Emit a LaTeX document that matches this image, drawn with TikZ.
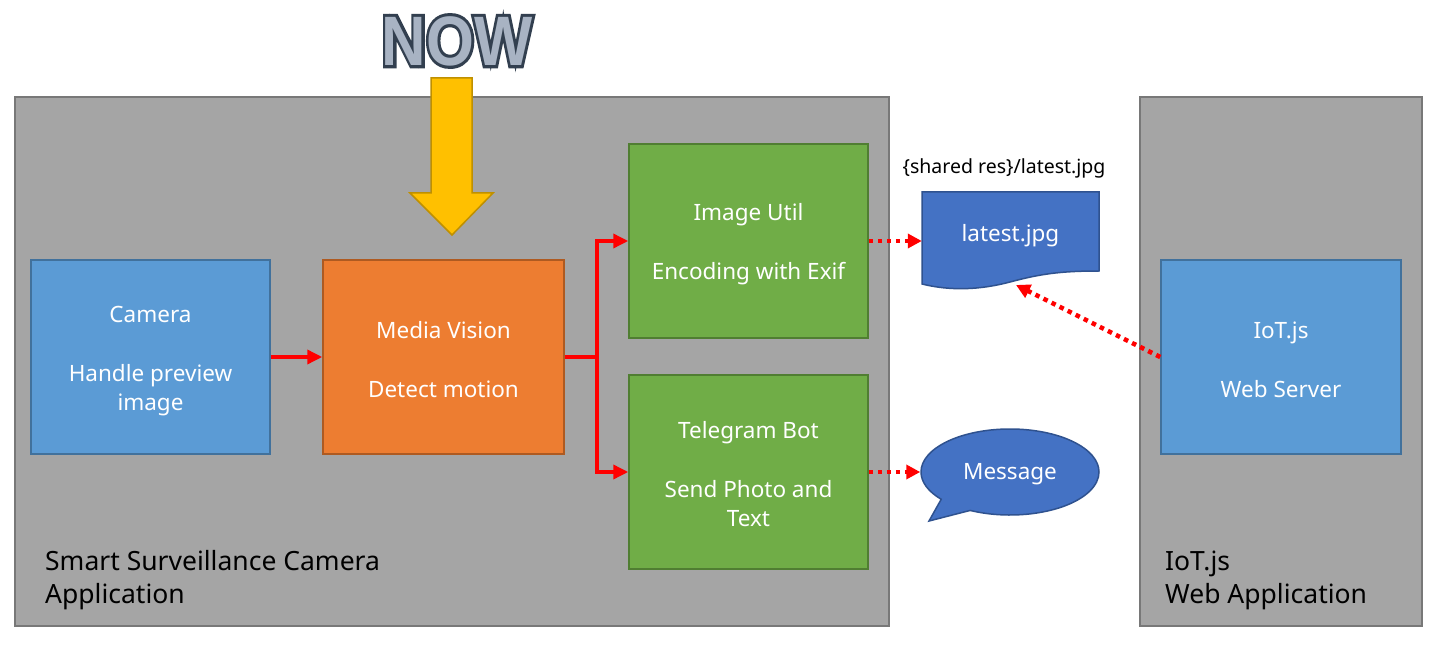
\documentclass[tikz,border=0pt]{standalone}
\usepackage{fontspec}
\setmainfont{Noto Sans}
\newfontfamily\nowfont{Liberation Sans Bold}
\newfontfamily\nowfontout{Liberation Sans Bold}[FakeBold=9]
\usetikzlibrary{arrows.meta,shapes.callouts,shapes.geometric,calc}
\definecolor{cont}{HTML}{A5A5A5}
\definecolor{contb}{HTML}{787878}
\definecolor{blueA}{HTML}{5B9BD5}
\definecolor{blueAb}{HTML}{41719C}
\definecolor{orangeA}{HTML}{ED7D31}
\definecolor{orangeAb}{HTML}{AE5A21}
\definecolor{greenA}{HTML}{70AD47}
\definecolor{greenAb}{HTML}{507E32}
\definecolor{blueB}{HTML}{4472C4}
\definecolor{blueBb}{HTML}{2F528F}
\definecolor{yel}{HTML}{FFC000}
\definecolor{yelb}{HTML}{BF9000}
\definecolor{nowdark}{HTML}{323F4F}
\definecolor{nowfill}{HTML}{A8B3C3}
\begin{document}
\begin{tikzpicture}[x=1pt,y=-1pt,
  container/.style={draw=contb, line width=2pt, fill=cont, inner sep=0},
  box/.style={draw, line width=1.5pt, minimum height=194pt, inner sep=0},
  boxtext/.style={align=center, text=white, font=\fontsize{22.5}{29.5}\selectfont, inner sep=0},
  redarrow/.style={draw=red, line width=3.5pt, -{Triangle[length=15pt,width=14pt]}},
  dotarrow/.style={draw=red, line width=4.5pt, dash pattern=on 4.5pt off 4.5pt, -{Triangle[length=14pt,width=14pt]}},
  lbl/.style={align=left, anchor=west, font=\fontsize{26.5}{33}\selectfont, inner sep=0},
  nowtxt/.style={font=\fontsize{70}{70}\selectfont, inner sep=0, xscale=0.88}
]
\useasboundingbox (0,0) rectangle (1438,668);
\fill[white] (0,0) rectangle (1438,668);

% containers
\node[container, minimum width=874pt, minimum height=529pt] (left) at (452,361.5) {};
\node[container, minimum width=282pt, minimum height=529pt] (right) at (1281,361.5) {};
\node[lbl] (leftlbl) at (45,580) {Smart Surveillance Camera\\Application};
\node[lbl] (rightlbl) at (1165,580) {IoT.js\\Web Application};

% boxes
\node[box, fill=blueA, draw=blueAb, minimum width=239pt] (camera) at (150.5,357) {};
\node[box, fill=orangeA, draw=orangeAb, minimum width=241pt] (media) at (443.5,357) {};
\node[box, fill=greenA, draw=greenAb, minimum width=239pt] (imgutil) at (748.5,241) {};
\node[box, fill=greenA, draw=greenAb, minimum width=239pt] (telegram) at (748.5,472) {};
\node[box, fill=blueA, draw=blueAb, minimum width=240pt] (iot) at (1281,357) {};
\node[boxtext] (cameratxt) at ($(camera.center)+(0,4)$) {Camera\\[29.5pt]Handle preview\\image};
\node[boxtext] (mediatxt) at ($(media.center)+(0,2.5)$) {Media Vision\\[29.5pt]Detect motion};
\node[boxtext] (imgutiltxt) at ($(imgutil.center)+(0,3)$) {Image Util\\[29.5pt]Encoding with Exif};
\node[boxtext] (telegramtxt) at ($(telegram.center)+(0,2)$) {Telegram Bot\\[29.5pt]Send Photo and\\Text};
\node[boxtext] (iottxt) at ($(iot.center)+(0,2.5)$) {IoT.js\\[29.5pt]Web Server};

% document shape
\fill[blueB, draw=blueBb, line width=1.5pt] (922,192) -- (1099,192) -- (1099,271)
  .. controls (1060,271) and (1040,274) .. (1010,282)
  .. controls (980,290) and (950,291) .. (922,284) -- cycle;
\node[text=white, font=\fontsize{22.5}{24}\selectfont, minimum width=177pt, inner sep=0] (doc) at (1010.5,236) {latest.jpg};
\node[font=\fontsize{19.5}{20}\selectfont, inner sep=0] (shared) at (1004,168) {\{shared res\}/latest.jpg};
\coordinate (docbot) at (1016,285);

% message callout
\node[ellipse callout, fill=blueB, draw=blueBb, line width=1.5pt, minimum width=178pt, minimum height=86pt,
  callout absolute pointer={(929,521)}, callout pointer arc=24, inner sep=0] (msg) at (1010,472) {};
\node[text=white, font=\fontsize{22.5}{24}\selectfont, inner sep=0] (msgtxt) at ($(msg.center)+(0,2)$) {Message};

% arrows
\draw[redarrow] (camera.east) -- (media.west);
\coordinate (split) at (597,357);
\draw[redarrow] (media.east) -- (split) |- (imgutil.west);
\draw[redarrow] (split) |- (telegram.west);
\draw[dotarrow] (imgutil.east) -- (imgutil.east -| doc.west);
\draw[dotarrow] (telegram.east) -- (msg.west);
\draw[dotarrow] (iot.west) -- (docbot);

% NOW arrow
\filldraw[fill=yel, draw=yelb, line width=1.5pt] (431,78) -- (472,78) -- (472,193) -- (493,193)
  -- (452,235) -- (410,193) -- (431,193) -- cycle;

% NOW text
\node[nowtxt, text=nowdark] (nowout) at (457,41) {\nowfontout NOW};
\node[nowtxt, text=nowfill] (now) at (457,41) {\nowfont NOW};
\end{tikzpicture}
\end{document}
